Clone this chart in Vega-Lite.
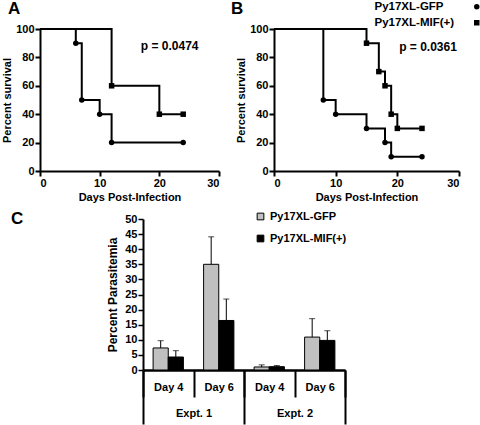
{
 "$schema": "https://vega.github.io/schema/vega-lite/v6.json",
 "background": "white",
 "padding": {"left": 1, "top": 0, "right": 0, "bottom": 0},
 "config": {
  "font": "Liberation Sans",
  "view": {"stroke": null},
  "axis": {"grid": false, "labelOverlap": false, "labelSeparation": 0, "labelFont": "Liberation Sans", "labelFontWeight": "bold", "labelFontSize": 11, "labelColor": "black", "titleFont": "Liberation Sans", "titleFontWeight": "bold", "titleFontSize": 11, "titleColor": "black", "domainColor": "black", "domainWidth": 2, "tickColor": "black", "tickWidth": 2, "tickSize": 5, "labelPadding": 1, "titlePadding": 3},
  "title": {"font": "Liberation Sans", "fontWeight": "bold", "fontSize": 17, "color": "black", "anchor": "start", "frame": "group", "baseline": "alphabetic"}
 },
 "datasets": {
  "survA": [
   {"group": "Py17XL-GFP", "day": 0, "pct": 100},
   {"group": "Py17XL-GFP", "day": 6, "pct": 90},
   {"group": "Py17XL-GFP", "day": 7, "pct": 50},
   {"group": "Py17XL-GFP", "day": 10, "pct": 40},
   {"group": "Py17XL-GFP", "day": 12, "pct": 20},
   {"group": "Py17XL-GFP", "day": 24, "pct": 20},
   {"group": "Py17XL-MIF(+)", "day": 0, "pct": 100},
   {"group": "Py17XL-MIF(+)", "day": 12, "pct": 60},
   {"group": "Py17XL-MIF(+)", "day": 20, "pct": 40},
   {"group": "Py17XL-MIF(+)", "day": 24, "pct": 40}
  ],
  "survB": [
   {"group": "Py17XL-GFP", "day": 0, "pct": 100},
   {"group": "Py17XL-GFP", "day": 8, "pct": 50},
   {"group": "Py17XL-GFP", "day": 10, "pct": 40},
   {"group": "Py17XL-GFP", "day": 15, "pct": 30},
   {"group": "Py17XL-GFP", "day": 18, "pct": 20},
   {"group": "Py17XL-GFP", "day": 19, "pct": 10},
   {"group": "Py17XL-GFP", "day": 24, "pct": 10},
   {"group": "Py17XL-MIF(+)", "day": 0, "pct": 100},
   {"group": "Py17XL-MIF(+)", "day": 15, "pct": 90},
   {"group": "Py17XL-MIF(+)", "day": 17, "pct": 70},
   {"group": "Py17XL-MIF(+)", "day": 18, "pct": 60},
   {"group": "Py17XL-MIF(+)", "day": 19, "pct": 40},
   {"group": "Py17XL-MIF(+)", "day": 20, "pct": 30},
   {"group": "Py17XL-MIF(+)", "day": 24, "pct": 30}
  ],
  "para": [
   {"slot": "Expt. 1 Day 4", "expt": "Expt. 1", "strain": "Py17XL-GFP", "value": 7.3, "upper": 9.7},
   {"slot": "Expt. 1 Day 4", "expt": "Expt. 1", "strain": "Py17XL-MIF(+)", "value": 4.3, "upper": 6.4},
   {"slot": "Expt. 1 Day 6", "expt": "Expt. 1", "strain": "Py17XL-GFP", "value": 35.0, "upper": 44.1},
   {"slot": "Expt. 1 Day 6", "expt": "Expt. 1", "strain": "Py17XL-MIF(+)", "value": 16.4, "upper": 23.5},
   {"slot": "Expt. 2 Day 4", "expt": "Expt. 2", "strain": "Py17XL-GFP", "value": 1.0, "upper": 1.7},
   {"slot": "Expt. 2 Day 4", "expt": "Expt. 2", "strain": "Py17XL-MIF(+)", "value": 1.1, "upper": 1.5},
   {"slot": "Expt. 2 Day 6", "expt": "Expt. 2", "strain": "Py17XL-GFP", "value": 10.9, "upper": 17.0},
   {"slot": "Expt. 2 Day 6", "expt": "Expt. 2", "strain": "Py17XL-MIF(+)", "value": 9.8, "upper": 13.0}
  ]
 },
 "resolve": {"scale": {"fill": "independent", "shape": "independent"}, "legend": {"fill": "independent", "shape": "independent"}},
 "vconcat": [
  {
   "hconcat": [
    {
     "width": 179, "height": 142,
     "title": {"text": "A", "dx": -32, "offset": 5},
     "layer": [
      {
       "data": {"name": "survA"},
       "mark": {"type": "line", "interpolate": "step-after", "color": "black", "strokeWidth": 2},
       "encoding": {
        "x": {"field": "day", "type": "quantitative", "scale": {"domain": [0, 30], "nice": false}, "axis": {"values": [0, 10, 20, 30], "tickCount": 4, "labelOverlap": false, "title": "Days Post-Infection"}},
        "y": {"field": "pct", "type": "quantitative", "scale": {"domain": [0, 100], "nice": false}, "axis": {"values": [0, 20, 40, 60, 80, 100], "tickCount": 6, "labelOverlap": false, "title": "Percent survival"}},
        "detail": {"field": "group"}
       }
      },
      {
       "data": {"name": "survA"},
       "transform": [{"filter": "datum.day > 0"}],
       "mark": {"type": "point", "filled": true, "color": "black", "opacity": 1, "size": 30},
       "encoding": {
        "x": {"field": "day", "type": "quantitative"},
        "y": {"field": "pct", "type": "quantitative"},
        "shape": {"field": "group", "type": "nominal", "scale": {"domain": ["Py17XL-GFP", "Py17XL-MIF(+)"], "range": ["circle", "square"]}, "legend": null}
       }
      },
      {
       "data": {"values": [{"p": "p = 0.0474", "d": 16.9, "s": 88}]},
       "mark": {"type": "text", "fontWeight": "bold", "fontSize": 12, "align": "left", "baseline": "middle", "color": "black"},
       "encoding": {
        "x": {"field": "d", "type": "quantitative"},
        "y": {"field": "s", "type": "quantitative"},
        "text": {"field": "p"}
       }
      }
     ]
    },
    {
     "width": 185, "height": 142,
     "title": {"text": "B", "dx": -43, "offset": -17},
     "layer": [
      {
       "data": {"name": "survB"},
       "mark": {"type": "line", "interpolate": "step-after", "color": "black", "strokeWidth": 2},
       "encoding": {
        "x": {"field": "day", "type": "quantitative", "scale": {"domain": [0, 30], "nice": false}, "axis": {"values": [0, 10, 20, 30], "tickCount": 4, "labelOverlap": false, "title": "Days Post-Infection"}},
        "y": {"field": "pct", "type": "quantitative", "scale": {"domain": [0, 100], "nice": false}, "axis": {"values": [0, 20, 40, 60, 80, 100], "tickCount": 6, "labelOverlap": false, "title": "Percent survival"}},
        "detail": {"field": "group"}
       }
      },
      {
       "data": {"name": "survB"},
       "transform": [{"filter": "datum.day > 0"}],
       "mark": {"type": "point", "filled": true, "color": "black", "opacity": 1, "size": 30},
       "encoding": {
        "x": {"field": "day", "type": "quantitative"},
        "y": {"field": "pct", "type": "quantitative"},
        "shape": {"field": "group", "type": "nominal", "scale": {"domain": ["Py17XL-GFP", "Py17XL-MIF(+)"], "range": ["circle", "square"]},
         "legend": {"orient": "none", "legendX": 93, "legendY": -28, "title": null, "labelFont": "Liberation Sans", "labelFontSize": 11.5, "labelFontWeight": "bold", "labelColor": "black", "symbolFillColor": "black", "symbolStrokeColor": "black", "symbolSize": 30, "rowPadding": 3, "symbolOffset": 104, "labelOffset": -108}}
       }
      },
      {
       "data": {"values": [{"p": "p = 0.0361", "d": 20.3, "s": 87}]},
       "mark": {"type": "text", "fontWeight": "bold", "fontSize": 12, "align": "left", "baseline": "middle", "color": "black"},
       "encoding": {
        "x": {"field": "d", "type": "quantitative"},
        "y": {"field": "s", "type": "quantitative"},
        "text": {"field": "p"}
       }
      }
     ]
    }
   ],
   "spacing": 11,
   "resolve": {"scale": {"shape": "independent"}, "legend": {"shape": "independent"}}
  },
  {
   "hconcat": [
    {
     "width": 66, "height": 151,
     "title": {"text": "C", "dx": -29, "offset": -9},
     "data": {"values": [{"blank": 0}]},
     "mark": {"type": "point", "opacity": 0}
    },
    {
     "width": 202, "height": 151,
     "data": {"name": "para"},
     "layer": [
      {
       "layer": [
        {
         "mark": {"type": "bar", "stroke": "black", "strokeWidth": 1},
         "encoding": {
          "x": {"field": "slot", "type": "nominal", "sort": null, "scale": {"paddingInner": 0, "paddingOuter": 0},
           "axis": {"title": null, "labelExpr": "slice(datum.label, -5)", "labelAngle": 0, "labelOverlap": false, "tickBand": "extent", "tickSize": 27, "labelPadding": -16, "labelFontSize": 11, "orient": "bottom"}},
          "xOffset": {"field": "strain", "type": "nominal", "scale": {"paddingInner": 0, "paddingOuter": 0.667}},
          "y": {"field": "value", "type": "quantitative", "scale": {"domain": [0, 50], "nice": false}, "axis": {"values": [0, 5, 10, 15, 20, 25, 30, 35, 40, 45, 50], "tickCount": 11, "labelOverlap": false, "title": "Percent Parasitemia", "titleFontSize": 12, "titlePadding": 5, "tickWidth": 1.5}},
          "fill": {"field": "strain", "type": "nominal", "scale": {"domain": ["Py17XL-GFP", "Py17XL-MIF(+)"], "range": ["#c0c0c0", "#000000"]},
           "legend": {"orient": "none", "legendX": 112, "legendY": -8, "title": null, "labelFont": "Liberation Sans", "labelFontSize": 11, "labelFontWeight": "bold", "labelColor": "black", "symbolType": "square", "symbolSize": 45, "symbolStrokeColor": "black", "symbolStrokeWidth": 1, "rowPadding": 10}}
         }
        },
        {
         "mark": {"type": "rule", "color": "black", "strokeWidth": 1},
         "encoding": {
          "x": {"field": "slot", "type": "nominal", "sort": null},
          "xOffset": {"field": "strain", "type": "nominal"},
          "y": {"field": "value", "type": "quantitative"},
          "y2": {"field": "upper"}
         }
        },
        {
         "mark": {"type": "tick", "color": "black", "thickness": 1, "size": 6},
         "encoding": {
          "x": {"field": "slot", "type": "nominal", "sort": null},
          "xOffset": {"field": "strain", "type": "nominal"},
          "y": {"field": "upper", "type": "quantitative"}
         }
        }
       ]
      },
      {
       "mark": {"type": "rule", "opacity": 0},
       "encoding": {
        "x": {"field": "expt", "type": "nominal", "scale": {"paddingInner": 0, "paddingOuter": 0},
         "axis": {"title": null, "labelAngle": 0, "labelOverlap": false, "tickBand": "extent", "tickSize": 54, "labelPadding": -17, "labelFontSize": 11, "orient": "bottom"}}
       }
      }
     ],
     "resolve": {"scale": {"x": "independent"}, "axis": {"x": "independent"}}
    }
   ],
   "spacing": 0,
   "resolve": {"scale": {"fill": "independent"}, "legend": {"fill": "independent"}}
  }
 ],
 "spacing": 8
}
